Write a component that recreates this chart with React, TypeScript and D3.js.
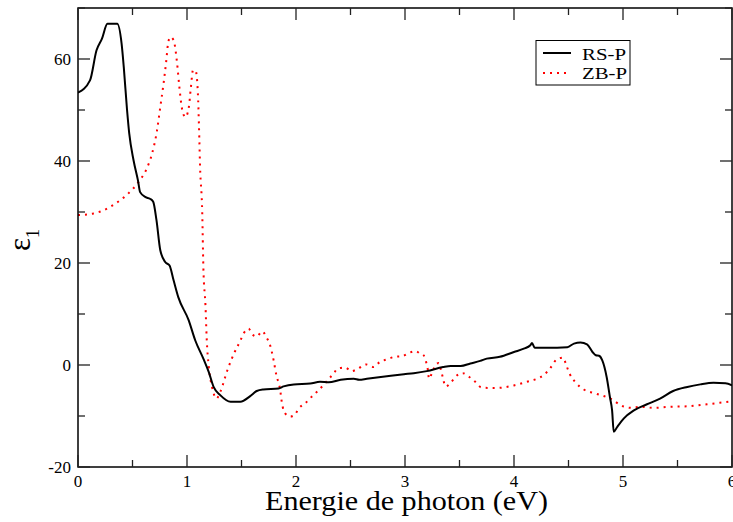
import React from "react";
import * as d3 from "d3";

const rsX = [0, 0.11, 0.17, 0.22, 0.27, 0.36, 0.40, 0.42, 0.45, 0.47, 0.51, 0.55, 0.57, 0.62, 0.66, 0.69, 0.72, 0.755, 0.80, 0.84, 0.877, 0.92, 1.015, 1.076, 1.15, 1.2, 1.244, 1.305, 1.40, 1.49, 1.58, 1.64, 1.70, 1.84, 1.886, 1.98, 2.13, 2.22, 2.30, 2.41, 2.53, 2.58, 2.65, 2.87, 2.99, 3.08, 3.20, 3.35, 3.42, 3.51, 3.60, 3.69, 3.75, 3.87, 4.0, 4.09, 4.15, 4.165, 4.19, 4.30, 4.49, 4.55, 4.61, 4.67, 4.72, 4.75, 4.78, 4.81, 4.85, 4.88, 4.90, 4.915, 4.945, 5.006, 5.10, 5.22, 5.34, 5.46, 5.59, 5.71, 5.83, 5.94, 6.0];
const rsY = [53.4, 55.8, 61.7, 64, 66.9, 66.9, 63, 58.4, 50, 45.4, 40.1, 36.2, 33.9, 32.9, 32.6, 32, 28.4, 22.5, 20.2, 19.5, 16.6, 13.3, 8.8, 4.8, 1.25, -1.4, -4.3, -5.9, -7.2, -7.2, -6.1, -5.1, -4.8, -4.6, -4.2, -3.8, -3.65, -3.3, -3.4, -2.9, -2.7, -2.9, -2.7, -2.1, -1.8, -1.6, -1.2, -0.4, -0.2, -0.2, 0.3, 0.8, 1.25, 1.6, 2.55, 3.2, 3.86, 4.3, 3.4, 3.4, 3.5, 4.2, 4.4, 4.05, 2.55, 1.9, 1.8, 0.9, -2.35, -6.3, -8.9, -13.1, -12.2, -10.5, -8.9, -7.7, -6.6, -5.1, -4.3, -3.8, -3.5, -3.6, -4.0];

const zbX = [0, 0.14, 0.22, 0.34, 0.46, 0.556, 0.63, 0.68, 0.725, 0.755, 0.785, 0.81, 0.826, 0.847, 0.877, 0.908, 0.93, 0.954, 0.985, 1.015, 1.036, 1.055, 1.08, 1.10, 1.11, 1.12, 1.14, 1.15, 1.17, 1.18, 1.2, 1.23, 1.27, 1.305, 1.37, 1.43, 1.49, 1.52, 1.565, 1.60, 1.64, 1.69, 1.73, 1.76, 1.78, 1.795, 1.82, 1.84, 1.856, 1.865, 1.877, 1.90, 1.95, 1.99, 2.03, 2.085, 2.14, 2.19, 2.24, 2.29, 2.34, 2.385, 2.45, 2.51, 2.57, 2.645, 2.71, 2.77, 2.835, 2.905, 2.97, 3.04, 3.10, 3.14, 3.17, 3.195, 3.21, 3.22, 3.25, 3.28, 3.31, 3.33, 3.35, 3.37, 3.42, 3.46, 3.53, 3.59, 3.645, 3.70, 3.77, 3.84, 4.0, 4.12, 4.21, 4.27, 4.33, 4.39, 4.45, 4.48, 4.51, 4.56, 4.64, 4.75, 4.885, 5.0, 5.08, 5.16, 5.28, 5.43, 5.59, 5.77, 6.0];
const zbY = [29.4, 29.7, 30.2, 31.6, 33.6, 35.9, 38.5, 41.5, 46, 50.6, 55.2, 59.7, 63, 64.3, 63.7, 59.4, 54.5, 50.3, 48.6, 50.3, 54.5, 57.8, 57.6, 53.2, 46.7, 38.8, 29.7, 19.2, 11.4, 5.5, -0.4, -4.3, -6.6, -5.3, -1.04, 2.2, 4.8, 6.2, 7.1, 6.0, 5.6, 6.6, 5.4, 4.06, 2.4, 0.9, -2, -3.5, -5, -6.6, -8.1, -9.5, -10.1, -9.7, -8.4, -7.5, -6.3, -5.3, -4.2, -3, -1.8, -0.7, -0.5, -1.2, -0.7, 0.1, -0.4, 0.6, 1.1, 1.6, 1.7, 2.4, 2.7, 2.2, 1.9, 0.5, -1, -2.7, -1.4, -0.05, 0.4, -1, -2.7, -4.2, -3.5, -2.35, -1.6, -2.35, -3.3, -4.4, -4.5, -4.5, -4.0, -3.3, -2.7, -2.0, -0.7, 1.05, 1.45, -0.06, -1.7, -3.3, -4.8, -5.6, -6.6, -8.1, -8.4, -8.2, -8.4, -8.2, -8.1, -7.7, -7.1];

const xMajor = [0, 1, 2, 3, 4, 5, 6];
const xMinor = [0.5, 1.5, 2.5, 3.5, 4.5, 5.5];
const yMajor = [-20, 0, 20, 40, 60];
const yMinor = [-10, 10, 30, 50, 70];
const seriesNames = ["RS-P", "ZB-P"];

const W = 733, H = 522;
const L = 78, R = 732, T = 8, B = 467;
const FONT = "Liberation Serif";

export default function App() {
  const x = d3.scaleLinear().domain([0, 6]).range([L, R]);
  const y = d3.scaleLinear().domain([-20, 70]).range([B, T]);
  const line = d3.line<[number, number]>().x(d => x(d[0])).y(d => y(d[1])).curve(d3.curveMonotoneX);
  const rs = line(rsX.map((v, i) => [v, rsY[i]] as [number, number])) || "";
  const zb = line(zbX.map((v, i) => [v, zbY[i]] as [number, number])) || "";
  const tc = "#222";
  const ts = { fontFamily: FONT };
  return (
    <svg width={W} height={H} style={{ position: "absolute", left: 0, top: 0, background: "#fff" }}>
      <defs>
        <clipPath id="clip"><rect x={L} y={T} width={R - L} height={B - T} /></clipPath>
      </defs>
      <g clipPath="url(#clip)">
        <path d={zb} fill="none" stroke="#ff0000" strokeWidth={2} strokeDasharray="2,5" />
        <path d={rs} fill="none" stroke="#000" strokeWidth={2} />
      </g>
      <rect x={L} y={T} width={R - L} height={B - T} fill="none" stroke="#000" strokeWidth={1.5} />
      {xMajor.map(v => (
        <g key={"xm" + v}>
          <line x1={x(v)} x2={x(v)} y1={B} y2={B - 12} stroke={tc} strokeWidth={1.3} />
          <line x1={x(v)} x2={x(v)} y1={T} y2={T + 12} stroke={tc} strokeWidth={1.3} />
          <text x={x(v)} y={487} textAnchor="middle" fontSize={17} style={ts}>{v}</text>
        </g>
      ))}
      {xMinor.map(v => (
        <g key={"xn" + v}>
          <line x1={x(v)} x2={x(v)} y1={B} y2={B - 7} stroke={tc} strokeWidth={1.3} />
          <line x1={x(v)} x2={x(v)} y1={T} y2={T + 7} stroke={tc} strokeWidth={1.3} />
        </g>
      ))}
      {yMajor.map(v => (
        <g key={"ym" + v}>
          <line x1={L} x2={L + 12} y1={y(v)} y2={y(v)} stroke={tc} strokeWidth={1.3} />
          <line x1={R} x2={R - 12} y1={y(v)} y2={y(v)} stroke={tc} strokeWidth={1.3} />
          <text x={71} y={y(v)} dy="0.35em" textAnchor="end" fontSize={17} style={ts}>{v}</text>
        </g>
      ))}
      {yMinor.map(v => (
        <g key={"yn" + v}>
          <line x1={L} x2={L + 7} y1={y(v)} y2={y(v)} stroke={tc} strokeWidth={1.3} />
          <line x1={R} x2={R - 7} y1={y(v)} y2={y(v)} stroke={tc} strokeWidth={1.3} />
        </g>
      ))}
      <text x={265} y={510} fontSize={28} textLength={283} lengthAdjust="spacingAndGlyphs" style={ts}>Energie de photon (eV)</text>
      <text transform="translate(30,240) rotate(-90)" textAnchor="middle" fontSize={31} style={ts}>
        ε<tspan fontSize={18} dy={9}>1</tspan>
      </text>
      <g>
        <rect x={536} y={40.5} width={94} height={44.5} fill="#fff" stroke="#000" strokeWidth={1} />
        <line x1={543} x2={571} y1={53} y2={53} stroke="#000" strokeWidth={2} />
        <line x1={543} x2={571} y1={73} y2={73} stroke="#ff0000" strokeWidth={2} strokeDasharray="2,5" />
        <text x={582} y={60} fontSize={17} textLength={44} lengthAdjust="spacingAndGlyphs" style={ts}>{seriesNames[0]}</text>
        <text x={582} y={79} fontSize={17} textLength={45} lengthAdjust="spacingAndGlyphs" style={ts}>{seriesNames[1]}</text>
      </g>
    </svg>
  );
}
